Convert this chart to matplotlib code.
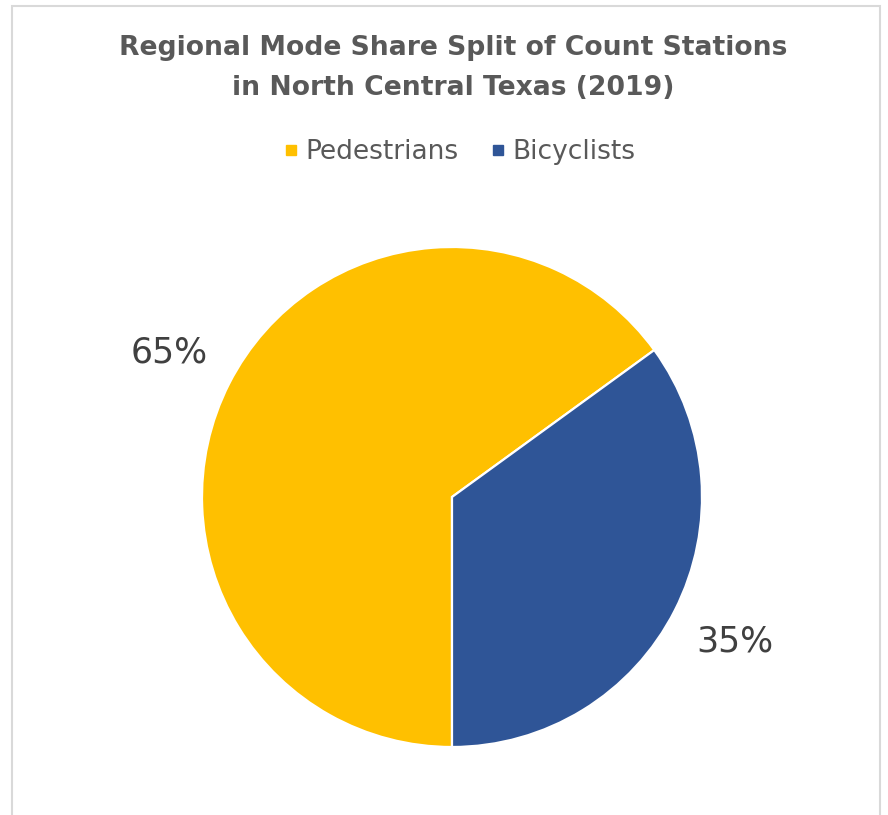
import matplotlib.pyplot as plt
from matplotlib.patches import Rectangle
from matplotlib.lines import Line2D

# Datos del gráfico
categorias = ['Pedestrians', 'Bicyclists']
valores = [65, 35]
colores = ['#FFC000', '#2F5597']

W, H = 888, 815
fig = plt.figure(figsize=(W / 100, H / 100), dpi=100)
plt.rcParams['font.family'] = ['DejaVu Sans']

# Borde del área del gráfico (cortado abajo)
fig.patches.append(Rectangle((12 / W, -0.05), (880 - 12) / W, 1.05 - 6 / H,
                             transform=fig.transFigure, fill=False,
                             edgecolor='#d9d9d9', linewidth=1.5))

# Pie centrado en (452, 497) px con radio 250 px
cx, cy, r = 452, 497, 250
ax = fig.add_axes([(cx - r) / W, (H - cy - r) / H, 2 * r / W, 2 * r / H])
ax.pie(valores, colors=colores, startangle=270, counterclock=False,
       autopct='%.0f%%', pctdistance=1.27, radius=1,
       wedgeprops=dict(edgecolor='white', linewidth=1.6),
       textprops=dict(fontsize=25, color='#404040'))
ax.set_xlim(-1, 1)
ax.set_ylim(-1, 1)
ax.set_aspect('equal')
ax.axis('off')

fig.text(453 / W, 1 - 48 / H, 'Regional Mode Share Split of Count Stations',
         ha='center', va='center', fontsize=19.2, fontweight='bold', color='#595959')
fig.text(453 / W, 1 - 88 / H, 'in North Central Texas (2019)',
         ha='center', va='center', fontsize=19.2, fontweight='bold', color='#595959')

handles = [Line2D([], [], marker='s', linestyle='', markersize=7,
                  markerfacecolor=c, markeredgecolor=c) for c in colores]
fig.legend(handles, categorias, loc='center', bbox_to_anchor=(459 / W, 1 - 152 / H),
           ncol=2, frameon=False, fontsize=19, labelcolor='#595959',
           handletextpad=0.25, columnspacing=1.2, handlelength=0.6)

fig.savefig('out.png', dpi=100)
